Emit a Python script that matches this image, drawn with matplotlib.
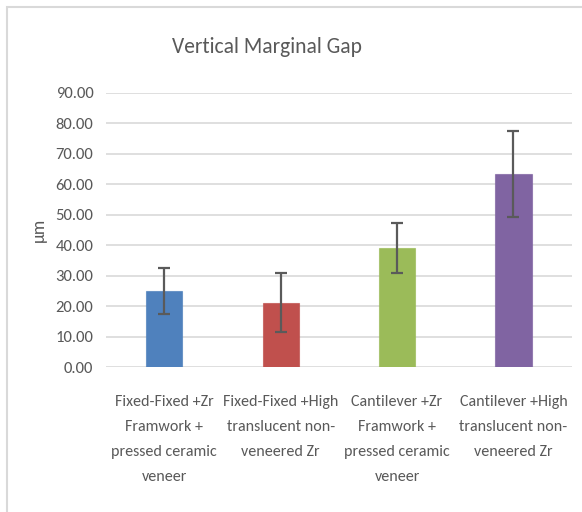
import matplotlib.pyplot as plt
from matplotlib.patches import Rectangle

categories = [
    "Fixed-Fixed +Zr\nFramwork +\npressed ceramic\nveneer",
    "Fixed-Fixed +High\ntranslucent non-\nveneered Zr",
    "Cantilever +Zr\nFramwork +\npressed ceramic\nveneer",
    "Cantilever +High\ntranslucent non-\nveneered Zr",
]
means = [25.0, 21.1, 39.1, 63.3]
errors = [7.5, 9.6, 8.2, 14.0]
colors = ["#4F81BD", "#C0504D", "#9BBB59", "#8064A2"]
yticks = [0, 10, 20, 30, 40, 50, 60, 70, 80, 90]

plt.rcParams['font.family'] = ['Carlito', 'DejaVu Sans']
txt = "#595959"

fig = plt.figure(figsize=(5.82, 5.12), dpi=100)
# chart frame
fig.patches.append(Rectangle((7 / 582, -0.05), 1.0, 1 - 7 / 512 + 0.05,
                             transform=fig.transFigure, fill=False,
                             edgecolor="#D9D9D9", lw=1.5))

ax = fig.add_axes([0.1821, 0.2832, 0.8002, 0.5361])
x = range(len(categories))
ax.bar(x, means, width=0.31, color=colors, edgecolor=[c + "B0" for c in colors],
       lw=0.8, zorder=3)
ax.errorbar(x, means, yerr=errors, fmt="none", ecolor="#5a5a5a", elinewidth=1.6,
            capsize=4, capthick=1.6, zorder=4)

ax.set_xlim(-0.5, 3.5)
ax.set_ylim(0, 90)
ax.set_yticks(yticks)
ax.set_yticklabels([f"{v:.2f}" for v in yticks], fontsize=12, color=txt)
ax.yaxis.grid(True, color="#D9D9D9", lw=1.2, zorder=0)
ax.set_axisbelow(True)
for s in ax.spines.values():
    s.set_visible(False)
ax.tick_params(axis="y", length=0, pad=9)
ax.set_xticks(list(x))
ax.set_xticklabels(categories, fontsize=11.5, color=txt, linespacing=2.0, va="top")
ax.tick_params(axis="x", length=0, pad=20)
ax.set_ylabel("μm", fontsize=13, color=txt, labelpad=6)

fig.text(267 / 582, 1 - 47 / 512, "Vertical Marginal Gap", ha="center", va="center",
         fontsize=15.5, color=txt)

fig.savefig("out.png", dpi=100)
